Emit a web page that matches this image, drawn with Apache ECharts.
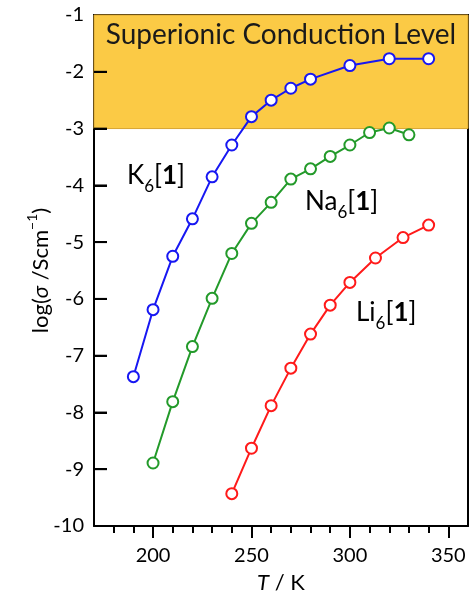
<!DOCTYPE html>
<html>
<head>
<meta charset="utf-8">
<script src="https://cdn.jsdelivr.net/npm/echarts@6/dist/echarts.min.js"></script>
<style>
  html, body { margin: 0; padding: 0; background: #fff; }
  #chart { width: 474px; height: 594px; }
</style>
</head>
<body>
<div id="chart"></div>
<script>
// Temperatures (K) and log conductivity values for each salt
const tempK = [190, 200, 210, 220, 230, 240, 250, 260, 270, 280, 300, 320, 340];
const logK  = [-7.37, -6.19, -5.25, -4.59, -3.85, -3.29, -2.79, -2.50, -2.29, -2.13, -1.89, -1.77, -1.77];

const tempNa = [200, 210, 220, 230, 240, 250, 260, 270, 280, 290, 300, 310, 320, 330];
const logNa  = [-8.89, -7.81, -6.84, -5.99, -5.20, -4.67, -4.30, -3.89, -3.71, -3.49, -3.29, -3.07, -2.99, -3.11];

const tempLi = [240, 250, 260, 270, 280, 290, 300, 313, 327, 340];
const logLi  = [-9.43, -8.63, -7.88, -7.22, -6.62, -6.11, -5.71, -5.28, -4.92, -4.70];

// Superionic region bounds on the log(sigma) axis
const superionicRange = [-3, -1];

// Axis ranges and ticks
const rangeT = [170, 360];
const rangeLogSigma = [-10, -1];
const majorTicksT = [200, 250, 300, 350];
const minorTicksT = [180, 190, 210, 220, 230, 240, 260, 270, 280, 290, 310, 320, 330, 340];
const ticksLogSigma = [-9, -8, -7, -6, -5, -4, -3, -2];

const FONT = 'Lato, "Open Sans", sans-serif';
const BLUE = '#1717f2';
const GREEN = '#239a2a';
const RED = '#ff1a1a';
const AXIS_LINE = { show: true, onZero: false, lineStyle: { color: '#000', width: 2 } };
const Y_TICK_LEN = 13;          // px
const Y_TICK_SPAN_T = 6.6;      // same length expressed along the T axis (K)

function pairs(xs, ys) { return xs.map((x, i) => [x, ys[i]]); }

function lineSeries(name, xs, ys, color) {
  return {
    name: name,
    type: 'line',
    data: pairs(xs, ys),
    symbol: 'circle',
    symbolSize: 11,
    showSymbol: true,
    lineStyle: { color: color, width: 2 },
    itemStyle: { color: '#fff', borderColor: color, borderWidth: 2 },
    z: 5
  };
}

const chart = echarts.init(document.getElementById('chart'), null, { renderer: 'canvas' });

const labelRich = function (color) {
  return {
    m: { fontFamily: FONT, fontSize: 26, color: color, lineHeight: 38 },
    b: { fontFamily: FONT, fontSize: 26, color: color, fontWeight: 'bold', lineHeight: 38 },
    s: { fontFamily: FONT, fontSize: 17, color: color, verticalAlign: 'bottom', lineHeight: 17 }
  };
};

// Frame-only axes (top and right edges of the plot box)
const frameAxis = {
  type: 'value',
  axisLine: AXIS_LINE,
  axisTick: { show: false },
  axisLabel: { show: false },
  splitLine: { show: false }
};

chart.setOption({
  animation: false,
  grid: { left: 94, right: 6, top: 15, bottom: 68, show: false, outerBoundsMode: 'none', containLabel: false },
  xAxis: [
    {
      type: 'value', min: rangeT[0], max: rangeT[1], interval: 10,
      position: 'bottom',
      axisLine: AXIS_LINE,
      axisTick: { show: true, inside: false, length: 12, customValues: majorTicksT, lineStyle: { color: '#000', width: 2 } },
      axisLabel: { customValues: majorTicksT, margin: 20, fontFamily: FONT, fontSize: 20, color: '#000' },
      splitLine: { show: false },
      name: '{i|T}{a| / K}',
      nameLocation: 'middle',
      nameGap: 46,
      nameMoveOverlap: false,
      nameTextStyle: {
        rich: {
          i: { fontFamily: FONT, fontSize: 22, fontStyle: 'italic', color: '#000' },
          a: { fontFamily: FONT, fontSize: 22, color: '#000' }
        }
      }
    },
    {
      type: 'value', min: rangeT[0], max: rangeT[1], interval: 10,
      position: 'bottom',
      axisLine: { show: false },
      axisTick: { show: true, inside: false, length: 7, customValues: minorTicksT, lineStyle: { color: '#000', width: 2 } },
      axisLabel: { show: false },
      splitLine: { show: false }
    },
    Object.assign({}, frameAxis, { min: rangeT[0], max: rangeT[1], position: 'top' })
  ],
  yAxis: [
    {
      type: 'value', min: rangeLogSigma[0], max: rangeLogSigma[1], interval: 1,
      position: 'left',
      axisLine: AXIS_LINE,
      axisTick: { show: true, inside: true, length: Y_TICK_LEN, lineStyle: { color: '#000', width: 2 } },
      axisLabel: { margin: 10, fontFamily: FONT, fontSize: 20, color: '#000' },
      splitLine: { show: false },
      name: '{a|log(}{i|σ}{a| /Scm}{s|−1}{a|)}',
      nameLocation: 'middle',
      nameGap: 37,
      nameMoveOverlap: false,
      nameTextStyle: {
        rich: {
          a: { fontFamily: FONT, fontSize: 22, color: '#000', lineHeight: 32 },
          i: { fontFamily: FONT, fontSize: 22, fontStyle: 'italic', color: '#000', lineHeight: 32 },
          s: { fontFamily: FONT, fontSize: 14, color: '#000', verticalAlign: 'top', lineHeight: 14 }
        }
      }
    },
    Object.assign({}, frameAxis, { min: rangeLogSigma[0], max: rangeLogSigma[1], position: 'right' })
  ],
  series: [
    Object.assign(lineSeries('K6[1]', tempK, logK, BLUE), {
      markArea: {
        silent: true,
        itemStyle: { color: '#fbca45', borderColor: '#d9a532', borderWidth: 1 },
        label: {
          show: true, position: 'insideTop', distance: 6,
          fontFamily: FONT, fontSize: 28, color: '#1a1a1a'
        },
        data: [[
          { name: 'Superionic Conduction Level', yAxis: superionicRange[0] },
          { yAxis: superionicRange[1] }
        ]],
        z: 1
      },
      // Inward tick marks on the log(sigma) axis
      markLine: {
        silent: true,
        symbol: ['none', 'none'],
        label: { show: false },
        lineStyle: { color: '#000', width: 2, type: 'solid' },
        emphasis: { disabled: true },
        data: ticksLogSigma.map(v => [
          { coord: [rangeT[0], v] },
          { coord: [rangeT[0] + Y_TICK_SPAN_T, v] }
        ]),
        z: 6
      }
    }),
    lineSeries('Na6[1]', tempNa, logNa, GREEN),
    lineSeries('Li6[1]', tempLi, logLi, RED),
    {
      name: 'yTicks',
      type: 'scatter',
      data: ticksLogSigma.map(v => [rangeT[0], v]),
      symbol: 'rect',
      symbolSize: [Y_TICK_LEN, 2],
      symbolOffset: [Y_TICK_LEN / 2, 0],
      itemStyle: { color: '#000' },
      silent: true,
      clip: false,
      z: 6
    }
  ],
  graphic: [
    { type: 'text', left: 127, top: 163, z: 10,
      style: { text: '{m|K}{s|6}{m|[}{b|1}{m|]}', rich: labelRich(BLUE) } },
    { type: 'text', left: 305, top: 189, z: 10,
      style: { text: '{m|Na}{s|6}{m|[}{b|1}{m|]}', rich: labelRich(GREEN) } },
    { type: 'text', left: 356, top: 300, z: 10,
      style: { text: '{m|Li}{s|6}{m|[}{b|1}{m|]}', rich: labelRich(RED) } }
  ]
});
</script>
</body>
</html>
